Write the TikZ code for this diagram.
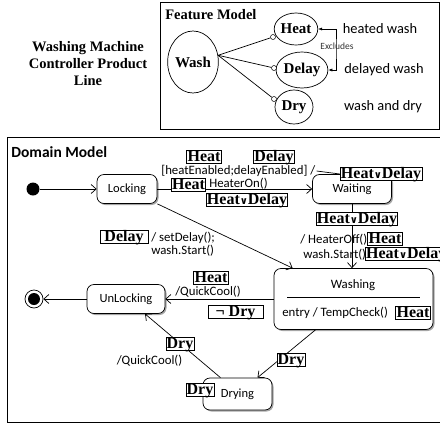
\documentclass[tikz,border=0pt]{standalone}
\usepackage{fontspec}
\setmainfont{Liberation Serif}
\setsansfont{Carlito}
\newfontfamily\orfont{DejaVu Sans}
\usetikzlibrary{shapes.geometric,shadows,arrows.meta}
\newcommand{\orsym}{{\orfont\fontsize{10}{10}\selectfont ∨}}

\begin{document}
\begin{tikzpicture}
  [x=1pt,y=-1pt,line width=0.7pt,
   feat/.style={ellipse,draw,inner sep=0pt,font=\fontsize{15}{15}\selectfont\bfseries},
   knob/.style={circle,draw,fill=white,inner sep=0pt,minimum size=5pt,line width=0.5pt},
   state/.style={draw,rounded corners=7pt,fill=white,minimum height=29pt,
     font=\sffamily\fontsize{12.5}{12.5}\selectfont,
     drop shadow={shadow xshift=1.5pt,shadow yshift=-1.5pt,fill=black!50,opacity=.7}},
   tag/.style={draw,fill=white,inner sep=0.8pt,text height=10.5pt,text depth=1pt,
     font=\fontsize{16}{16}\selectfont\bfseries},
   txt/.style={inner sep=1pt,font=\sffamily\fontsize{12.8}{13}\selectfont},
   desc/.style={inner sep=1pt,font=\sffamily\fontsize{14.4}{15}\selectfont},
   trans/.style={-{Straight Barb[length=5pt,width=9pt]}}]
  \useasboundingbox (0,0) rectangle (440,424);

  \node[align=center,font=\fontsize{14.5}{17}\selectfont\bfseries] (title) at (88,64)
    {Washing Machine\\Controller Product\\Line};

  \draw (160,2) rectangle (439,129);
  \node[anchor=west,inner sep=1pt,font=\fontsize{14.5}{15}\selectfont\bfseries] (fmlabel) at (164,15) {Feature Model};
  \node[feat,minimum width=48pt,minimum height=62pt] (wash) at (193,62) {Wash};
  \node[feat,minimum width=42pt,minimum height=32pt] (heat) at (296,29) {Heat};
  \node[feat,minimum width=48pt,minimum height=36pt] (delay) at (302,70) {Delay};
  \node[feat,minimum width=38pt,minimum height=34pt] (dry) at (294,107) {Dry};
  \node[knob] (hc) at (273,37) {};
  \node[knob] (dc) at (274,68) {};
  \node[knob] (yc) at (274,99) {};
  \foreach \c in {hc,dc,yc}
    \draw (wash.15) -- (\c);
  \coordinate (excl) at (336,48);
  \draw[line width=0.5pt,{Latex[length=4pt]}-{Latex[length=4pt]}] (heat.east) -| (excl) |- (delay.east);
  \node[inner sep=0pt,text=black!80,font=\sffamily\fontsize{9.5}{9.5}\selectfont] (exclabel) at (337,46) {Excludes};
  \node[desc] (hwdesc) at (380,29) {heated wash};
  \node[desc] (dwdesc) at (384,70) {delayed wash};
  \node[desc] (wddesc) at (383,107) {wash and dry};

  \draw (440,137) -- (7,137) -- (7,422) -- (440,422);
  \node[anchor=west,inner sep=1pt,font=\sffamily\fontsize{15.5}{16}\selectfont\bfseries] (dmlabel) at (10,152) {Domain Model};

  \node[circle,fill,inner sep=0pt,minimum size=13pt] (init) at (33,189) {};
  \node[state,minimum width=60pt] (locking) at (127,189) {Locking};
  \node[state,minimum width=79pt] (waiting) at (352,189) {Waiting};
  \node[state,minimum width=159pt,minimum height=61pt] (washing) at (353.5,299) {};
  \node[state,minimum width=78pt] (unlocking) at (126,299) {UnLocking};
  \node[state,minimum width=69pt,minimum height=32pt] (drying) at (237.5,394) {Drying};
  \node[circle,draw,inner sep=0pt,minimum size=18pt] (final) at (34,299) {};
  \node[circle,fill,inner sep=0pt,minimum size=12pt] (finaldot) at (final) {};

  \node[txt] (washtitle) at (353,285) {Washing};
  \draw (287,297) -- (420,297);
  \node[txt,anchor=west] (entry) at (281,313) {entry / TempCheck()};
  \node[tag] (heatentry) at (413,313) {Heat};

  \draw[trans] (init) -- (locking);
  \draw[trans] (locking) -- (waiting);
  \draw[trans] (locking.south east) -- ([xshift=19pt]washing.north west);
  \draw[trans] (waiting) -- (waiting |- washing.north);
  \draw[trans] (washing) -- (unlocking);
  \draw[trans] ([xshift=-38pt]washing.south) -- ([xshift=20pt]drying.north);
  \draw[trans] ([xshift=-17pt]drying.north) -- ([xshift=19pt]unlocking.south);
  \draw[trans] (unlocking) -- (final);

  \node[tag] (heatguard) at (204,157) {Heat};
  \node[tag] (delayguard) at (274,157) {Delay};
  \node[txt,anchor=west] (guard) at (160,171) {[heatEnabled;delayEnabled] /};
  \node[tag] (hdwait) at (381,174) {Heat\orsym Delay};
  \draw (guard.east) -- (hdwait.west);
  \node[tag] (heaton) at (188.5,184.5) {Heat};
  \node[txt,anchor=west] (heateron) at (208,184) {HeaterOn()};
  \node[tag] (hdlock) at (247,200) {Heat\orsym Delay};

  \node[tag,minimum width=48pt] (delaylock) at (124,237) {Delay};
  \node[txt,anchor=north west,align=left] (setdelay) at (150,231) {/ setDelay();\\wash.Start()};

  \node[tag] (hdwash) at (357,219) {Heat\orsym Delay};
  \node[txt,anchor=west] (heateroff) at (299,240) {/ HeaterOff()};
  \node[txt,anchor=west] (washstart) at (302,255) {wash.Start()};
  \node[tag] (heatoff) at (385,239) {Heat};
  \node[tag,anchor=west] (hdoff) at (365,254) {Heat\orsym Delay};

  \node[tag] (heatcool) at (211,278) {Heat};
  \node[txt] (quickcool) at (208,292) {/QuickCool()};
  \node[tag,minimum width=55pt] (notdry) at (235.5,311.5) {¬ Dry};

  \node[tag] (drywash) at (291,360) {Dry};
  \node[tag] (drycool) at (180,344) {Dry};
  \node[txt] (quickcool2) at (149.5,361) {/QuickCool()};
  \node[tag] (drydrying) at (200,390) {Dry};

\end{tikzpicture}
\end{document}
